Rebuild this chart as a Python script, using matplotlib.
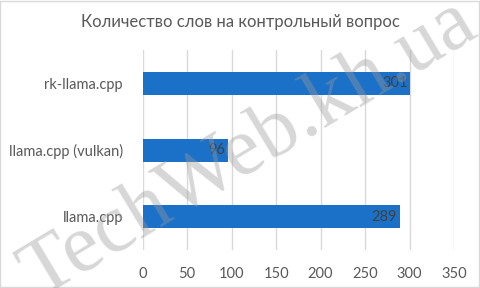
import matplotlib.pyplot as plt
import numpy as np

# данные
categories = ['llama.cpp', 'llama.cpp (vulkan)', 'rk-llama.cpp']
words = [289, 96, 301]
xticks = [0, 50, 100, 150, 200, 250, 300, 350]

plt.rcParams['font.family'] = ['Lato', 'Noto Sans', 'DejaVu Sans']

fig = plt.figure(figsize=(4.8, 2.88), dpi=100)
ax = fig.add_axes([0.297, 0.132, 0.649, 0.694])

y = np.arange(len(categories))
bars = ax.barh(y, words, height=0.345, color='#1b70c8', zorder=2)

ax.set_xlim(0, 350)
ax.set_ylim(-0.5, len(categories) - 0.5)
ax.set_xticks(xticks)
ax.set_yticks(y)
ax.set_yticklabels(categories)
ax.grid(axis='x', color='#d9d9d9', linewidth=1, zorder=0)
for s in ax.spines.values():
    s.set_visible(False)
ax.tick_params(axis='both', length=0, labelsize=10.5, labelcolor='#595959')
ax.tick_params(axis='x', pad=12)
ax.tick_params(axis='y', pad=14)

for b, v in zip(bars, words):
    ax.text(b.get_width() - 3, b.get_y() + b.get_height() / 2, str(v),
            ha='right', va='center', fontsize=10.5, color='#404040', zorder=3)

fig.text(0.5, 0.925, 'Количество слов на контрольный вопрос',
         ha='center', va='center', fontsize=12, color='#595959')

# водяной знак
fig.text(0.52, 0.48, 'TechWeb.kh.ua', family='Liberation Serif', fontsize=60,
         color='#9a9a9a', alpha=0.4, rotation=31, ha='center', va='center',
         zorder=10)

# рамка
fig.patches.append(plt.Rectangle((0.001, 0.002), 0.997, 0.995, transform=fig.transFigure,
                                 fill=False, edgecolor='#d9d9d9', linewidth=1))

fig.savefig('out.png', dpi=100)
